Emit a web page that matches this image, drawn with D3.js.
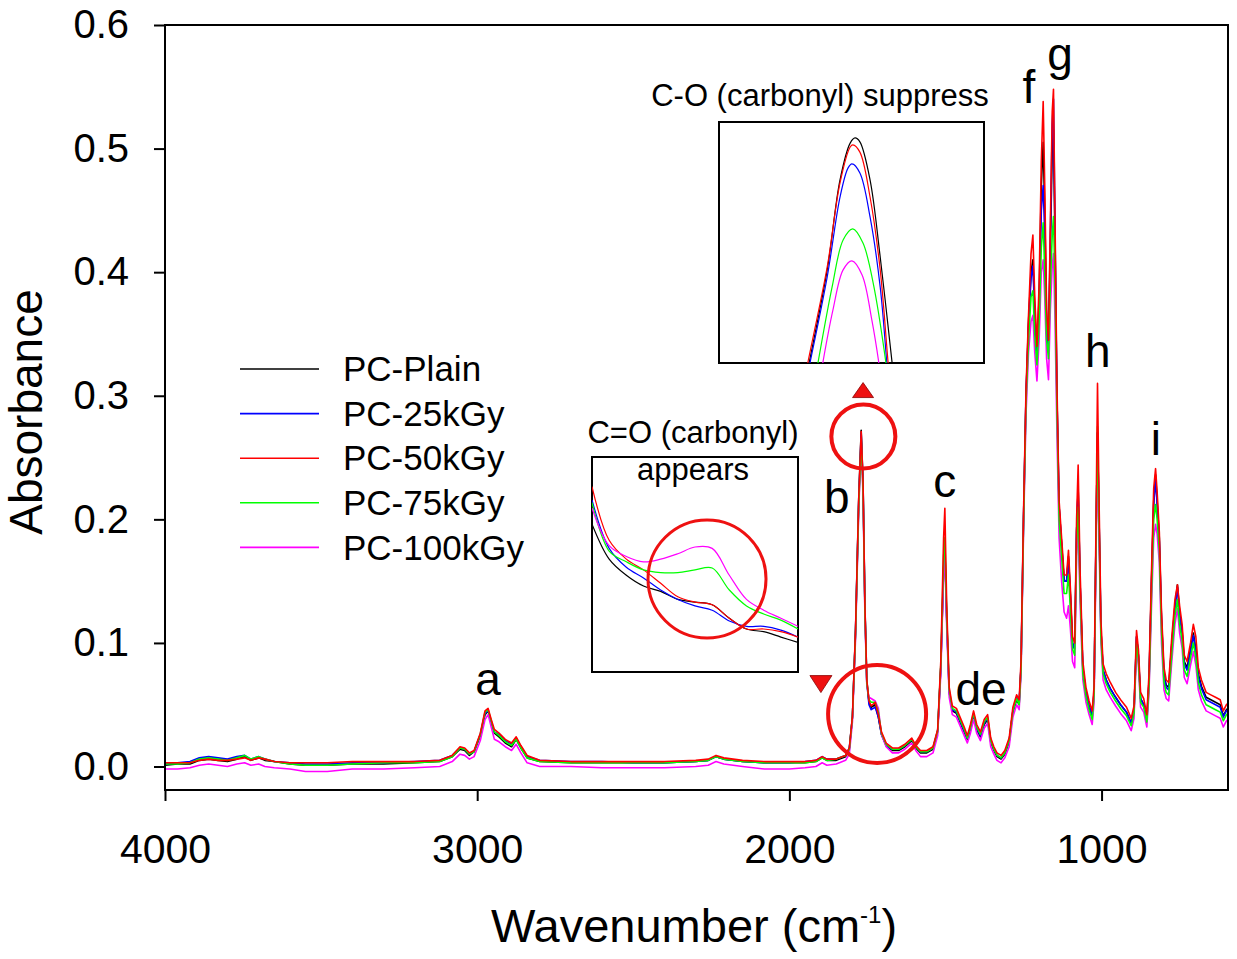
<!DOCTYPE html>
<html><head><meta charset="utf-8">
<script src="https://cdn.jsdelivr.net/npm/d3@7"></script>
<style>
body{margin:0;background:#fff}
svg{display:block}
text{font-family:Arial,"Liberation Sans",sans-serif;fill:#000}
</style>
</head><body>
<svg id="chart" width="1237" height="959"></svg>
<script>
// ---------------- DATA ----------------
const wavenumbers = [4000,3960,3920,3890,3860,3830,3800,3770,3745,3725,3700,3680,3650,3600,3550,3480,3400,3300,3200,3120,3080,3055,3040,3025,3010,2990,2975,2965,2955,2945,2930,2910,2890,2875,2860,2840,2800,2700,2600,2500,2400,2300,2260,2235,2210,2150,2080,2000,1950,1915,1895,1880,1850,1820,1808,1798,1788,1778,1770,1764,1758,1752,1745,1738,1725,1715,1705,1690,1670,1650,1630,1608,1595,1580,1560,1540,1525,1515,1506,1502,1496,1488,1478,1465,1455,1440,1430,1420,1410,1400,1388,1376,1365,1355,1345,1335,1322,1310,1296,1284,1272,1264,1258,1250,1242,1234,1226,1220,1214,1207,1200,1193,1187,1182,1176,1170,1164,1158,1154,1149,1143,1136,1128,1120,1112,1106,1100,1093,1086,1080,1075,1069,1060,1050,1040,1030,1024,1018,1013,1008,1002,995,985,972,955,939,920,905,896,888,882,875,865,855,848,840,833,827,822,815,808,800,793,785,775,765,757,750,742,735,726,715,706,698,690,680,665,650,635,620,610,600,595];

const pcPlain = [
.001,.002,.002,.005,.006,.005,.004,.006,.008,.005,
.007,.005,.004,.002,.001,.001,.002,.002,.003,.004,
.008,.014,.013,.009,.012,.025,.042,.045,.036,.027,
.024,.019,.016,.022,.015,.007,.004,.003,.003,.003,
.003,.004,.005,.008,.006,.004,.003,.003,.003,.004,
.007,.005,.005,.008,.014,.040,.110,.215,.272,.230,
.130,.070,.052,.048,.050,.040,.026,.017,.013,.013,
.016,.021,.015,.011,.011,.014,.028,.080,.160,.178,
.120,.060,.045,.043,.037,.028,.022,.030,.041,.030,
.024,.034,.038,.020,.013,.008,.006,.010,.020,.044,
.054,.050,.080,.200,.300,.360,.400,.410,.370,.335,
.380,.470,.505,.450,.360,.340,.420,.500,.515,.420,
.300,.210,.180,.150,.150,.170,.140,.100,.095,.190,
.225,.150,.080,.060,.048,.040,.060,.180,.270,.200,
.110,.078,.070,.063,.056,.050,.044,.035,.045,.105,
.090,.055,.050,.038,.070,.150,.215,.236,.215,.185,
.120,.075,.066,.064,.100,.130,.147,.125,.110,.085,
.080,.095,.108,.095,.075,.065,.056,.054,.052,.050,
.041,.046,.047];

const pc25kGy = [
.002,.003,.004,.007,.008,.007,.006,.008,.009,.006,
.008,.006,.004,.003,.002,.002,.003,.003,.004,.005,
.009,.015,.014,.010,.012,.026,.043,.045,.036,.028,
.026,.021,.018,.023,.016,.008,.005,.004,.004,.003,
.003,.004,.005,.008,.006,.004,.003,.003,.004,.005,
.008,.006,.006,.009,.015,.040,.110,.213,.269,.228,
.128,.068,.050,.046,.048,.040,.026,.017,.014,.014,
.017,.022,.016,.012,.012,.015,.029,.080,.160,.177,
.118,.060,.046,.044,.038,.029,.023,.031,.042,.031,
.025,.035,.039,.021,.014,.009,.007,.011,.021,.045,
.056,.052,.080,.200,.300,.355,.395,.405,.365,.330,
.370,.450,.470,.430,.355,.340,.430,.520,.540,.430,
.300,.210,.180,.150,.150,.168,.138,.100,.095,.190,
.225,.150,.080,.060,.050,.042,.060,.180,.270,.200,
.110,.078,.070,.063,.056,.050,.044,.035,.045,.105,
.090,.055,.050,.038,.068,.148,.212,.232,.212,.182,
.118,.073,.064,.062,.098,.128,.145,.123,.108,.083,
.078,.093,.106,.093,.073,.063,.054,.052,.050,.048,
.040,.045,.046];

const pc50kGy = [
.003,.003,.003,.005,.006,.005,.005,.006,.007,.005,
.007,.006,.004,.003,.003,.003,.004,.004,.004,.005,
.009,.016,.015,.011,.013,.027,.045,.047,.038,.030,
.027,.022,.019,.024,.017,.009,.005,.004,.004,.004,
.004,.005,.006,.009,.007,.005,.004,.004,.004,.005,
.008,.006,.006,.009,.015,.041,.112,.216,.271,.230,
.130,.070,.053,.049,.052,.042,.028,.019,.015,.015,
.018,.023,.017,.013,.013,.016,.030,.085,.185,.209,
.130,.064,.049,.047,.041,.032,.025,.034,.045,.034,
.028,.038,.042,.023,.016,.011,.009,.013,.023,.048,
.058,.054,.085,.205,.305,.365,.415,.430,.380,.340,
.390,.490,.538,.470,.370,.345,.440,.530,.548,.440,
.310,.215,.185,.155,.155,.175,.145,.105,.100,.200,
.244,.160,.085,.064,.053,.045,.065,.190,.310,.215,
.118,.083,.075,.068,.060,.054,.048,.039,.049,.110,
.095,.060,.055,.042,.075,.158,.225,.241,.222,.190,
.125,.080,.070,.068,.105,.135,.147,.130,.115,.090,
.085,.100,.115,.105,.080,.070,.060,.058,.056,.054,
.045,.050,.051];

const pc75kGy = [
.002,.002,.003,.006,.007,.006,.005,.007,.009,.006,
.008,.006,.004,.002,.001,.001,.002,.003,.003,.004,
.008,.015,.014,.010,.012,.026,.044,.046,.037,.028,
.025,.020,.017,.022,.015,.007,.004,.003,.003,.003,
.003,.004,.005,.008,.006,.004,.003,.003,.003,.004,
.007,.005,.006,.009,.014,.040,.108,.210,.265,.224,
.126,.068,.054,.052,.052,.044,.027,.018,.014,.014,
.017,.022,.016,.012,.012,.015,.029,.082,.170,.185,
.122,.062,.047,.045,.039,.030,.023,.032,.043,.032,
.026,.036,.040,.021,.014,.009,.007,.011,.021,.045,
.055,.050,.078,.195,.295,.345,.380,.385,.350,.325,
.360,.420,.440,.400,.345,.330,.390,.430,.445,.390,
.290,.200,.170,.140,.140,.155,.128,.095,.090,.180,
.210,.145,.075,.057,.046,.038,.058,.175,.275,.195,
.105,.075,.067,.060,.053,.047,.041,.033,.043,.100,
.086,.052,.048,.036,.065,.140,.200,.212,.200,.175,
.110,.068,.060,.058,.092,.122,.135,.115,.102,.078,
.073,.088,.100,.088,.068,.058,.050,.048,.046,.044,
.037,.042,.043];

const pc100kGy = [
-.002,-.002,-.001,.001,.002,.001,.000,.002,.003,.001,
.002,.000,-.001,-.002,-.004,-.004,-.002,-.002,-.001,.000,
.004,.010,.009,.006,.008,.021,.038,.042,.032,.022,
.020,.016,.013,.018,.011,.003,.000,.000,-.001,-.001,
-.001,.000,.001,.004,.002,.000,-.002,-.002,-.001,.000,
.003,.001,.002,.005,.010,.036,.104,.206,.262,.220,
.122,.066,.056,.055,.053,.047,.026,.016,.011,.011,
.014,.019,.013,.008,.008,.011,.025,.075,.155,.172,
.112,.056,.042,.040,.034,.025,.019,.027,.038,.027,
.021,.031,.035,.016,.010,.005,.003,.007,.016,.040,
.050,.046,.074,.190,.285,.335,.360,.365,.335,.312,
.345,.400,.410,.380,.330,.313,.370,.405,.415,.360,
.270,.185,.150,.125,.120,.130,.112,.085,.080,.170,
.195,.135,.070,.052,.042,.034,.052,.165,.255,.185,
.100,.070,.062,.056,.049,.043,.037,.029,.039,.095,
.082,.048,.044,.032,.060,.130,.185,.196,.188,.165,
.100,.062,.055,.053,.085,.115,.128,.108,.096,.072,
.067,.082,.093,.082,.062,.053,.045,.043,.041,.039,
.032,.037,.038];

const seriesNames = ["PC-Plain","PC-25kGy","PC-50kGy","PC-75kGy","PC-100kGy"];
const seriesColors = ["#000000","#0000ff","#ff0000","#00ff00","#ff00ff"];

const xTicks = [4000,3000,2000,1000];
const yTicks = [0.0,0.1,0.2,0.3,0.4,0.5,0.6];

// Inset 1: C=O region (1800-1680 cm-1)
const inset1Wn = [1800,1790,1780,1770,1760,1750,1740,1730,1720,1710,1700,1690,1680];
const inset1Plain = [0.075,0.062,0.056,0.052,0.050,0.047,0.046,0.045,0.040,0.036,0.035,0.033,0.031];
const inset1_25 = [0.084,0.066,0.059,0.055,0.0505,0.047,0.0446,0.043,0.039,0.037,0.037,0.0356,0.033];
const inset1_50 = [0.089,0.069,0.062,0.058,0.053,0.048,0.046,0.045,0.040,0.036,0.036,0.035,0.033];
const inset1_75 = [0.083,0.065,0.061,0.058,0.057,0.057,0.058,0.0587,0.0505,0.0446,0.0416,0.0393,0.036];
const inset1_100 = [0.081,0.067,0.063,0.061,0.062,0.064,0.0665,0.066,0.056,0.047,0.043,0.040,0.037];

// Inset 2: top of peak b
const inset2PlainWn = [1781.0,1779.6,1775.5,1772.6,1770.3,1769.2,1768.1,1765.8,1763.5,1760.8,1760.0];
const inset2PlainA  = [0.190,0.200,0.2309,0.2608,0.2730,0.2747,0.2734,0.2608,0.2352,0.200,0.190];
const inset2_25Wn = [1780.8,1779.4,1775.5,1772.6,1770.8,1769.9,1768.1,1765.8,1763.5,1762.0,1761.4];
const inset2_25A  = [0.190,0.200,0.2286,0.2551,0.2647,0.2661,0.2631,0.2485,0.2252,0.200,0.190];
const inset2_50Wn = [1781.2,1779.9,1775.5,1772.6,1770.3,1769.7,1768.1,1765.8,1763.5,1761.7,1761.0];
const inset2_50A  = [0.190,0.200,0.2319,0.2598,0.2717,0.2724,0.2700,0.2551,0.2309,0.200,0.190];
const inset2_75Wn = [1778.8,1777.6,1774.4,1771.9,1769.7,1767.4,1765.1,1762.2,1761.4];
const inset2_75A  = [0.190,0.200,0.2252,0.2408,0.2445,0.2398,0.2266,0.200,0.190];
const inset2_100Wn = [1777.6,1776.5,1774.2,1771.9,1769.9,1767.6,1765.4,1763.8,1762.9];
const inset2_100A  = [0.190,0.200,0.2176,0.2309,0.2339,0.2292,0.2143,0.200,0.190];

// Peak labels (wavenumber, absorbance position)
const peakLabels = ["a","b","c","de","f","g","h","i"];
const peakLabelWn = [2965,1848,1502,1386,1233,1133,1012,826];
const peakLabelA  = [0.058,0.205,0.218,0.050,0.537,0.5635,0.3232,0.252];

// ---------------- DRAW ----------------
const svg = d3.select("#chart");
const P = {left:165, right:1228, top:25, bottom:790};
const x = d3.scaleLinear().domain([4000,595]).range([P.left,P.right]);
const y = d3.scaleLinear().domain([-0.019,0.6]).range([P.bottom,P.top]);

const defs = svg.append("defs");
defs.append("clipPath").attr("id","plotClip").append("rect")
  .attr("x",P.left).attr("y",P.top).attr("width",P.right-P.left).attr("height",P.bottom-P.top);

// axes
const yAxis = d3.axisLeft(y).tickValues(yTicks).tickFormat(d3.format(".1f")).tickSize(11).tickPadding(25);
svg.append("g").attr("transform",`translate(${P.left},0)`).call(yAxis)
  .call(g=>g.select(".domain").remove())
  .call(g=>g.selectAll("text").attr("font-size",40).attr("font-family","Arial, 'Liberation Sans', sans-serif").attr("fill","#000"))
  .call(g=>g.selectAll("line").attr("stroke","#000").attr("stroke-width",2));

const xAxis = d3.axisBottom(x).tickValues(xTicks).tickFormat(d3.format("d")).tickSize(11).tickPadding(33);
svg.append("g").attr("transform",`translate(0,${P.bottom})`).call(xAxis)
  .call(g=>g.select(".domain").remove())
  .call(g=>g.selectAll("text").attr("font-size",41).attr("font-family","Arial, 'Liberation Sans', sans-serif").attr("fill","#000"))
  .call(g=>g.selectAll("line").attr("stroke","#000").attr("stroke-width",2));

// series
const allSeries = [pcPlain, pc25kGy, pc50kGy, pc75kGy, pc100kGy];
const drawOrder = [0,1,4,3,2];
const line = d3.line().x((d,i)=>x(wavenumbers[i])).y(d=>y(d));
const gLines = svg.append("g").attr("clip-path","url(#plotClip)");
drawOrder.forEach(k=>{
  gLines.append("path").datum(allSeries[k]).attr("d",line)
    .attr("fill","none").attr("stroke",seriesColors[k]).attr("stroke-width",1.6).attr("stroke-linejoin","round");
});

// frame
svg.append("rect").attr("x",P.left).attr("y",P.top).attr("width",P.right-P.left).attr("height",P.bottom-P.top)
  .attr("fill","none").attr("stroke","#000").attr("stroke-width",2);

// axis titles
svg.append("text").attr("transform","translate(42,412) rotate(-90)").attr("text-anchor","middle")
  .attr("font-size",46).text("Absorbance");
const xt = svg.append("text").attr("x",694).attr("y",942).attr("text-anchor","middle").attr("font-size",47);
xt.append("tspan").text("Wavenumber (cm");
xt.append("tspan").attr("font-size",24).attr("dy",-19).text("-1");
xt.append("tspan").attr("dy",19).text(")");

// peak labels
peakLabels.forEach((t,i)=>{
  svg.append("text").attr("x",x(peakLabelWn[i])).attr("y",y(peakLabelA[i]))
    .attr("text-anchor","middle").attr("font-size",46).text(t);
});

// red circles & triangles
const red = "#ee1111";
svg.append("circle").attr("cx",x(1763)).attr("cy",y(0.267)).attr("r",32)
  .attr("fill","none").attr("stroke",red).attr("stroke-width",4);
svg.append("circle").attr("cx",x(1719)).attr("cy",y(0.0425)).attr("r",49)
  .attr("fill","none").attr("stroke",red).attr("stroke-width",4);
const tu = [x(1764), y(0.3046)];
svg.append("path").attr("d",`M${tu[0]-10.5},${tu[1]+7.5}L${tu[0]+10.5},${tu[1]+7.5}L${tu[0]},${tu[1]-7.5}Z`)
  .attr("fill",red).attr("stroke","#800").attr("stroke-width",0.8);
const td = [x(1899), y(0.0667)];
svg.append("path").attr("d",`M${td[0]-11},${td[1]-8.5}L${td[0]+11},${td[1]-8.5}L${td[0]},${td[1]+8.5}Z`)
  .attr("fill",red).attr("stroke","#800").attr("stroke-width",0.8);

// legend
const legY0 = 369, legDy = 44.6;
seriesNames.forEach((n,i)=>{
  const yy = legY0 + i*legDy;
  svg.append("line").attr("x1",240).attr("x2",319).attr("y1",yy).attr("y2",yy)
    .attr("stroke",seriesColors[i]).attr("stroke-width",1.6);
  svg.append("text").attr("x",343).attr("y",yy).attr("dy","0.35em").attr("font-size",35).text(n);
});

// ---------- Inset 1 ----------
const I1 = {left:592,right:798,top:457,bottom:672};
const x1 = d3.scaleLinear().domain([1800,1680]).range([I1.left,I1.right]);
const y1 = d3.scaleLinear().domain([0.02,0.10]).range([I1.bottom,I1.top]);
defs.append("clipPath").attr("id","in1Clip").append("rect")
  .attr("x",I1.left).attr("y",I1.top).attr("width",I1.right-I1.left).attr("height",I1.bottom-I1.top);
svg.append("rect").attr("x",I1.left).attr("y",I1.top).attr("width",I1.right-I1.left).attr("height",I1.bottom-I1.top)
  .attr("fill","#fff").attr("stroke","#000").attr("stroke-width",2);
const in1Series = [inset1Plain, inset1_25, inset1_50, inset1_75, inset1_100];
const l1 = d3.line().x((d,i)=>x1(inset1Wn[i])).y(d=>y1(d)).curve(d3.curveCatmullRom);
const g1 = svg.append("g").attr("clip-path","url(#in1Clip)");
[0,1,2,3,4].forEach(k=>{
  g1.append("path").datum(in1Series[k]).attr("d",l1).attr("fill","none")
    .attr("stroke",seriesColors[k]).attr("stroke-width",1.2);
});
g1.append("circle").attr("cx",x1(1733)).attr("cy",y1(0.0546)).attr("r",59)
  .attr("fill","none").attr("stroke",red).attr("stroke-width",3);
svg.append("text").attr("x",693).attr("y",443).attr("text-anchor","middle").attr("font-size",31).text("C=O (carbonyl)");
svg.append("text").attr("x",693).attr("y",480).attr("text-anchor","middle").attr("font-size",31).text("appears");

// ---------- Inset 2 ----------
const I2 = {left:719,right:984,top:122,bottom:363};
const x2 = d3.scaleLinear().domain([1800,1740]).range([I2.left,I2.right]);
const y2 = d3.scaleLinear().domain([0.20,0.28]).range([I2.bottom,I2.top]);
defs.append("clipPath").attr("id","in2Clip").append("rect")
  .attr("x",I2.left).attr("y",I2.top).attr("width",I2.right-I2.left).attr("height",I2.bottom-I2.top);
svg.append("rect").attr("x",I2.left).attr("y",I2.top).attr("width",I2.right-I2.left).attr("height",I2.bottom-I2.top)
  .attr("fill","#fff").attr("stroke","#000").attr("stroke-width",2);
const in2 = [[inset2PlainWn,inset2PlainA],[inset2_25Wn,inset2_25A],[inset2_50Wn,inset2_50A],[inset2_75Wn,inset2_75A],[inset2_100Wn,inset2_100A]];
const g2 = svg.append("g").attr("clip-path","url(#in2Clip)");
[0,1,2,3,4].forEach(k=>{
  const [wnArr, aArr] = in2[k];
  const l2 = d3.line().x((d,i)=>x2(wnArr[i])).y(d=>y2(d)).curve(d3.curveCatmullRom);
  g2.append("path").datum(aArr).attr("d",l2).attr("fill","none")
    .attr("stroke",seriesColors[k]).attr("stroke-width",1.2);
});
svg.append("text").attr("x",820).attr("y",106).attr("text-anchor","middle").attr("font-size",31).text("C-O (carbonyl) suppress");
</script>
</body></html>
